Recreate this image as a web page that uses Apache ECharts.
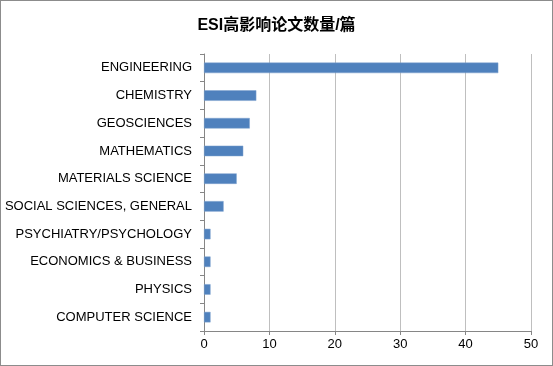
<!DOCTYPE html>
<html><head><meta charset="utf-8">
<script src="https://cdn.jsdelivr.net/npm/echarts@6/dist/echarts.min.js"></script>
<style>html,body{margin:0;padding:0;background:#fff}
#c{width:551px;height:364px;border:1px solid #8c8c8c;}
</style></head>
<body><div id="c"></div>
<script>
const categories = ["ENGINEERING","CHEMISTRY","GEOSCIENCES","MATHEMATICS","MATERIALS SCIENCE","SOCIAL SCIENCES, GENERAL","PSYCHIATRY/PSYCHOLOGY","ECONOMICS & BUSINESS","PHYSICS","COMPUTER SCIENCE"];
const values = [45,8,7,6,5,3,1,1,1,1];
const xTicks = [0,10,20,30,40,50];
const title = "ESI高影响论文数量/篇";

const chart = echarts.init(document.getElementById('c'));
chart.setOption({
  animation:false,
  title:{text:title,left:'center',top:12,textStyle:{fontSize:16,fontWeight:'bold',color:'#000',fontFamily:'"Liberation Sans","Noto Sans CJK SC",sans-serif'}},
  grid:{left:203,right:21,top:53,bottom:34,containLabel:false},
  xAxis:{type:'value',min:xTicks[0],max:xTicks[xTicks.length-1],interval:10,
    axisLine:{show:true,lineStyle:{color:'#868686'}},
    axisTick:{show:true,length:4,lineStyle:{color:'#868686'}},
    axisLabel:{color:'#000',fontSize:13,margin:7,fontFamily:'"Liberation Sans",sans-serif'},
    splitLine:{show:true,lineStyle:{color:'#bfbfbf'}}},
  yAxis:{type:'category',data:categories.slice().reverse(),
    axisLine:{show:true,lineStyle:{color:'#868686'}},
    axisTick:{show:true,length:4,lineStyle:{color:'#868686'}},
    axisLabel:{color:'#000',fontSize:13,margin:12,fontFamily:'"Liberation Sans",sans-serif'}},
  series:[{type:'bar',data:values.slice().reverse(),barWidth:'38%',
    itemStyle:{color:'#4F81BD',borderColor:'#7fa3cf',borderWidth:0.5}}]
});
</script></body></html>
